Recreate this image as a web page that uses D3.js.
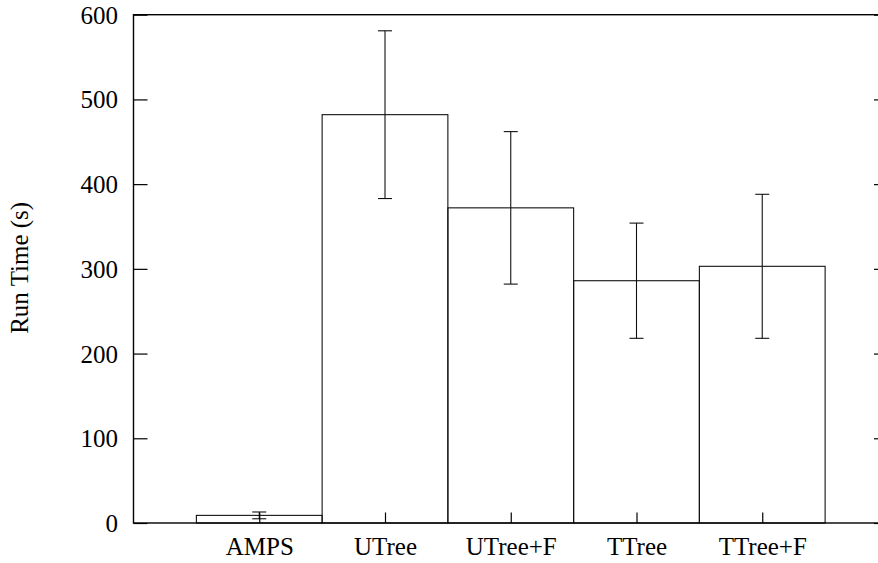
<!DOCTYPE html>
<html>
<head>
<meta charset="utf-8">
<script src="https://cdn.jsdelivr.net/npm/d3@7"></script>
<style>
  html, body { margin: 0; padding: 0; background: #fff; overflow: hidden; }
  svg { display: block; }
  text { font-family: "Liberation Serif", "Times New Roman", serif; fill: #000; }
</style>
</head>
<body>
<svg id="chart" width="878" height="563"></svg>
<script>
// Mean run time per method, with the half-width of its error bar
const categories = ["AMPS", "UTree", "UTree+F", "TTree", "TTree+F"];
const runTimes   = [9, 482, 372, 286, 303];
const errors     = [4, 99, 90, 68, 85];
const yTicks     = [0, 100, 200, 300, 400, 500, 600];
const yLabel     = "Run Time (s)";

const svg = d3.select("#chart");
const margin = { left: 133.5, top: 14.7, bottom: 523 };
const plotRight = 888; // frame continues past the window edge
const fontSize = 25;

const x = d3.scaleLinear().domain([0, 6]).range([margin.left, plotRight]);
const y = d3.scaleLinear().domain([0, 600]).range([margin.bottom, margin.top]);
const step = x(1) - x(0);

const g = svg.append("g");

// bars: each one spans a full unit, centred on its index
g.selectAll("rect.bar")
  .data(runTimes)
  .enter().append("rect")
  .attr("class", "bar")
  .attr("x", (d, i) => x(i + 1) - step / 2)
  .attr("y", d => y(d))
  .attr("width", step)
  .attr("height", d => y(0) - y(d))
  .attr("fill", "none")
  .attr("stroke", "#111")
  .attr("stroke-width", 1.1);

// error bars
const capHalf = 7;
const err = g.selectAll("g.err")
  .data(runTimes.map((v, i) => ({ v, e: errors[i], i })))
  .enter().append("g").attr("class", "err")
  .attr("stroke", "#111").attr("stroke-width", 1.1);
err.append("line")
  .attr("x1", d => x(d.i + 1)).attr("x2", d => x(d.i + 1))
  .attr("y1", d => y(d.v - d.e)).attr("y2", d => y(d.v + d.e));
err.append("line")
  .attr("x1", d => x(d.i + 1) - capHalf).attr("x2", d => x(d.i + 1) + capHalf)
  .attr("y1", d => y(d.v + d.e)).attr("y2", d => y(d.v + d.e));
err.append("line")
  .attr("x1", d => x(d.i + 1) - capHalf).attr("x2", d => x(d.i + 1) + capHalf)
  .attr("y1", d => y(d.v - d.e)).attr("y2", d => y(d.v - d.e));

// left axis with inward ticks
const yAxis = d3.axisLeft(y).tickValues(yTicks).tickSize(-14).tickPadding(15.5).tickFormat(d3.format("d"));
const ya = svg.append("g").attr("transform", `translate(${margin.left},0)`).call(yAxis);
ya.select(".domain").remove();
ya.selectAll(".tick line").attr("stroke", "#000").attr("stroke-width", 1.2);
ya.selectAll(".tick text")
  .attr("font-size", fontSize).attr("font-family", "Liberation Serif, serif")
  .attr("dy", "0.34em");

// mirrored ticks on the right edge
const yr = svg.append("g").attr("transform", `translate(${plotRight},0)`)
  .call(d3.axisRight(y).tickValues(yTicks).tickSize(-14).tickFormat(""));
yr.select(".domain").remove();
yr.selectAll(".tick line").attr("stroke", "#000").attr("stroke-width", 1.2);

// bottom axis with inward ticks at category centres
const xAxis = d3.axisBottom(x)
  .tickValues(categories.map((c, i) => i + 1))
  .tickSize(-10.5)
  .tickFormat((d) => categories[d - 1]);
const xa = svg.append("g").attr("transform", `translate(0,${margin.bottom})`).call(xAxis);
xa.select(".domain").remove();
xa.selectAll(".tick line").attr("stroke", "#000").attr("stroke-width", 1.2);
xa.selectAll(".tick text")
  .attr("font-size", fontSize).attr("font-family", "Liberation Serif, serif")
  .attr("y", 32).attr("dy", 0);

// frame
svg.append("rect")
  .attr("x", margin.left).attr("y", margin.top)
  .attr("width", plotRight - margin.left).attr("height", margin.bottom - margin.top)
  .attr("fill", "none").attr("stroke", "#000").attr("stroke-width", 1.4);

// y axis title
svg.append("text")
  .attr("transform", `translate(28,${y(300) - 1}) rotate(-90)`)
  .attr("text-anchor", "middle")
  .attr("font-size", fontSize)
  .text(yLabel);
</script>
</body>
</html>
